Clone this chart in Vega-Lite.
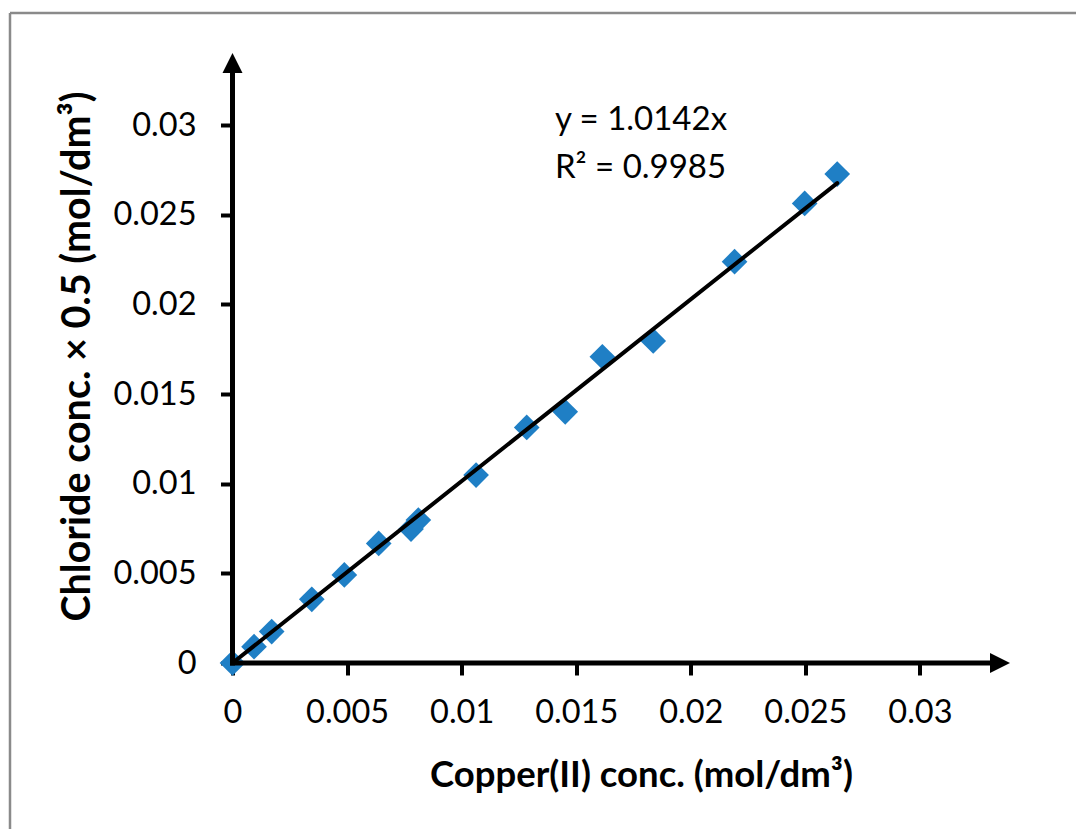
{
  "$schema": "https://vega.github.io/schema/vega-lite/v6.json",
  "width": 777.5,
  "height": 610,
  "autosize": {"type": "none"},
  "padding": {"left": 232.5, "top": 53, "right": 66, "bottom": 166},
  "background": "white",
  "config": {"view": {"stroke": null}, "font": "Lato"},
  "datasets": {
    "points": [
      {"x": 0, "y": 0},
      {"x": 0.00094, "y": 0.00091},
      {"x": 0.00171, "y": 0.00175},
      {"x": 0.00346, "y": 0.00355},
      {"x": 0.00488, "y": 0.00491},
      {"x": 0.00638, "y": 0.00667},
      {"x": 0.00779, "y": 0.00747},
      {"x": 0.00811, "y": 0.00797},
      {"x": 0.01063, "y": 0.01048},
      {"x": 0.01284, "y": 0.01314},
      {"x": 0.01452, "y": 0.01401},
      {"x": 0.01614, "y": 0.01708},
      {"x": 0.01836, "y": 0.01796},
      {"x": 0.02191, "y": 0.02238},
      {"x": 0.02497, "y": 0.02563},
      {"x": 0.02639, "y": 0.02727}
    ],
    "trend": [
      {"x": 0, "y": 0},
      {"x": 0.02639, "y": 0.026765}
    ],
    "border": [
      {"x": -0.00971, "y": 0.03625, "x2": 0.0375, "y2": 0.03625},
      {"x": -0.00971, "y": 0.03625, "x2": -0.00971, "y2": -0.0095}
    ],
    "axislines": [
      {"x": 0, "y": 0, "x2": 0.0332, "y2": 0},
      {"x": 0, "y": 0, "x2": 0, "y2": 0.0331}
    ],
    "arrowUp": [{"x": 0, "y": 0.03402}],
    "arrowRight": [{"x": 0.03393, "y": 0}],
    "notes": [
      {"x": 0.01407, "y": 0.02972, "label": "y = 1.0142x"},
      {"x": 0.01407, "y": 0.02705, "label": "R² = 0.9985"}
    ]
  },
  "encoding": {
    "x": {
      "field": "x",
      "type": "quantitative",
      "scale": {"domain": [0, 0.03393], "nice": false, "zero": false},
      "axis": {
        "title": "Copper(II) conc. (mol/dm³)",
        "values": [0, 0.005, 0.01, 0.015, 0.02, 0.025, 0.03],
        "format": "~g",
        "domain": false,
        "grid": false,
        "ticks": true,
        "tickColor": "black",
        "tickWidth": 4,
        "tickSize": 12,
        "labelFont": "Lato",
        "labelFontSize": 32.5,
        "labelColor": "black",
        "labelPadding": 21,
        "labelFlush": false,
        "labelOverlap": false,
        "titleFont": "Lato",
        "titleFontSize": 36.5,
        "titleFontWeight": "bold",
        "titleColor": "black",
        "titleX": 408.5,
        "titleY": 123,
        "titleAlign": "center",
        "titleBaseline": "alphabetic"
      }
    },
    "y": {
      "field": "y",
      "type": "quantitative",
      "scale": {"domain": [0, 0.03402], "nice": false, "zero": false},
      "axis": {
        "title": "Chloride conc. × 0.5 (mol/dm³)",
        "values": [0, 0.005, 0.01, 0.015, 0.02, 0.025, 0.03],
        "format": "~g",
        "domain": false,
        "grid": false,
        "ticks": true,
        "tickColor": "black",
        "tickWidth": 4,
        "tickSize": 12,
        "labelFont": "Lato",
        "labelFontSize": 32.5,
        "labelColor": "black",
        "labelPadding": 24.5,
        "labelFlush": false,
        "labelOverlap": false,
        "titleFont": "Lato",
        "titleFontSize": 39.5,
        "titleFontWeight": "bold",
        "titleColor": "black",
        "titleAngle": 270,
        "titleX": -143,
        "titleY": 303,
        "titleAlign": "center",
        "titleBaseline": "alphabetic"
      }
    }
  },
  "layer": [
    {
      "data": {"name": "border"},
      "mark": {"type": "rule", "clip": false, "color": "#8a8a8a", "strokeWidth": 2.5},
      "encoding": {"x2": {"field": "x2"}, "y2": {"field": "y2"}}
    },
    {
      "data": {"name": "points"},
      "mark": {"type": "point", "shape": "diamond", "filled": true, "color": "#1f7fc5", "opacity": 1, "size": 660, "strokeWidth": 0}
    },
    {
      "data": {"name": "trend"},
      "mark": {"type": "line", "color": "black", "strokeWidth": 4, "strokeCap": "round"}
    },
    {
      "data": {"name": "axislines"},
      "mark": {"type": "rule", "clip": false, "color": "black", "strokeWidth": 5, "strokeCap": "square"},
      "encoding": {"x2": {"field": "x2"}, "y2": {"field": "y2"}}
    },
    {
      "data": {"name": "arrowUp"},
      "mark": {"type": "point", "shape": "M0,0L1,2L-1,2Z", "filled": true, "color": "black", "opacity": 1, "size": 400, "strokeWidth": 0, "clip": false}
    },
    {
      "data": {"name": "arrowRight"},
      "mark": {"type": "point", "shape": "M0,0L-2,-1L-2,1Z", "filled": true, "color": "black", "opacity": 1, "size": 400, "strokeWidth": 0, "clip": false}
    },
    {
      "data": {"name": "notes"},
      "mark": {"type": "text", "align": "left", "baseline": "alphabetic", "font": "Lato", "fontSize": 33, "color": "black"},
      "encoding": {"text": {"field": "label"}}
    }
  ]
}
